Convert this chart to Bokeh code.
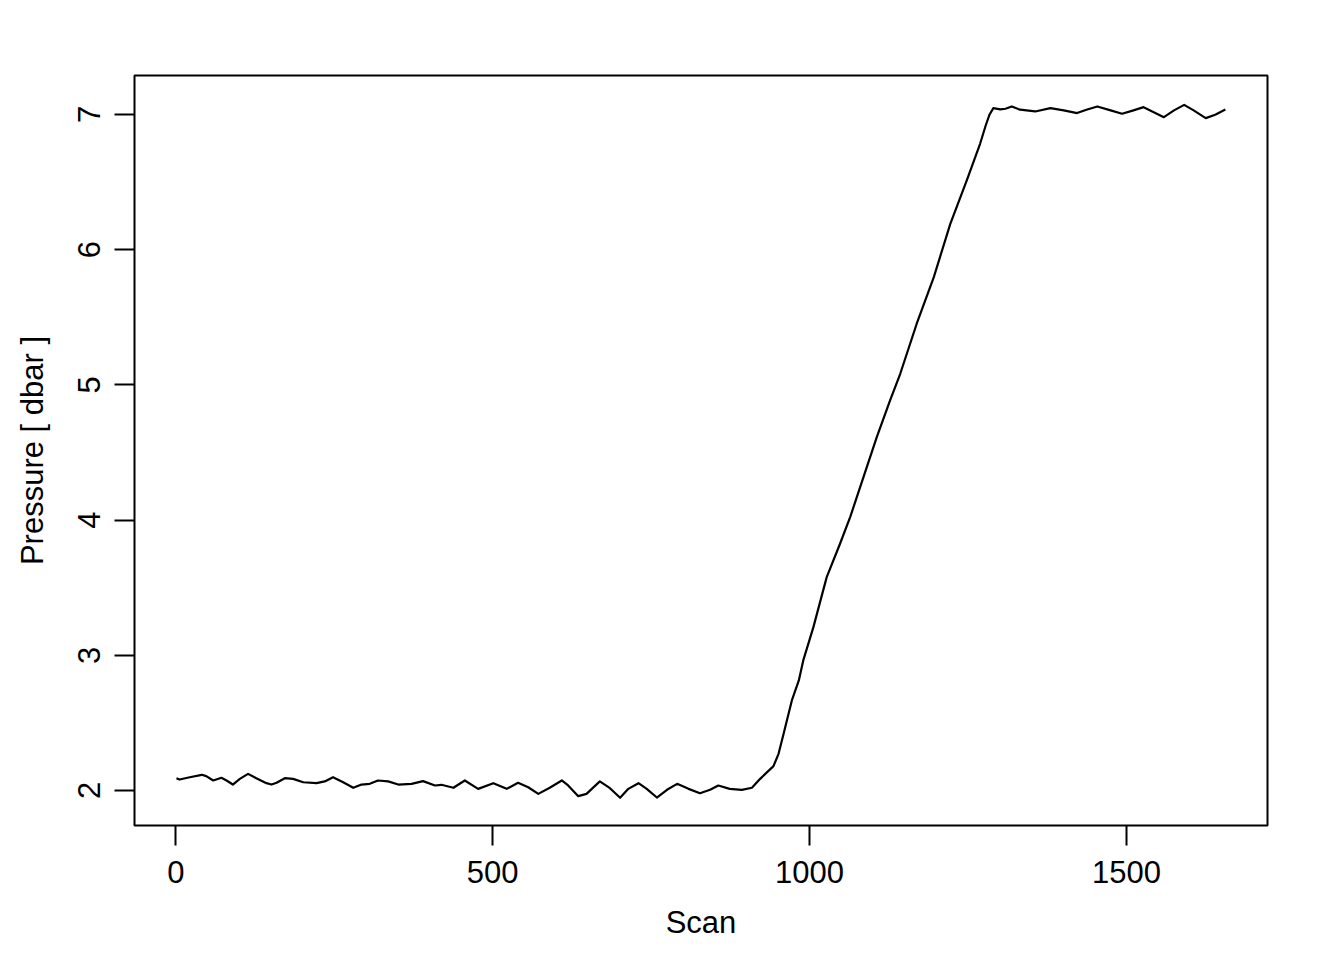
from bokeh.plotting import figure
from bokeh.models import Range1d, FixedTicker
from bokeh.embed import file_html
from bokeh.resources import INLINE

# Data
scan = [1, 6, 22, 41, 48, 59, 72, 80, 90, 101, 114, 127, 143, 151, 159, 172,
        185, 201, 222, 235, 248, 264, 280, 293, 306, 319, 335, 351, 372, 390,
        409, 419, 438, 456, 477, 501, 522, 540, 556, 572, 590, 609, 619, 635,
        648, 669, 685, 701, 714, 730, 743, 759, 775, 791, 809, 827, 843, 856,
        874, 893, 909, 922, 943, 951, 959, 972, 983, 990, 1006, 1027, 1048,
        1064, 1085, 1106, 1127, 1143, 1169, 1196, 1222, 1248, 1269, 1278, 1284,
        1290, 1301, 1309, 1319, 1332, 1356, 1380, 1401, 1422, 1438, 1454, 1475,
        1493, 1511, 1527, 1543, 1559, 1575, 1591, 1606, 1625, 1640, 1656]
pressure = [2.091, 2.081, 2.098, 2.116, 2.106, 2.074, 2.094, 2.074, 2.044, 2.086,
            2.123, 2.091, 2.054, 2.044, 2.057, 2.091, 2.086, 2.061, 2.054, 2.067,
            2.098, 2.061, 2.020, 2.044, 2.049, 2.074, 2.067, 2.044, 2.049, 2.069,
            2.037, 2.042, 2.020, 2.074, 2.012, 2.054, 2.012, 2.057, 2.024, 1.975,
            2.020, 2.074, 2.037, 1.958, 1.975, 2.067, 2.017, 1.946, 2.012, 2.054,
            2.012, 1.948, 2.005, 2.049, 2.012, 1.980, 2.005, 2.037, 2.012, 2.005,
            2.020, 2.086, 2.180, 2.271, 2.419, 2.666, 2.814, 2.962, 3.208, 3.578,
            3.825, 4.022, 4.317, 4.613, 4.885, 5.082, 5.452, 5.797, 6.191, 6.512,
            6.783, 6.920, 7.000, 7.047, 7.037, 7.042, 7.059, 7.035, 7.022, 7.047,
            7.030, 7.010, 7.037, 7.059, 7.030, 7.005, 7.030, 7.054, 7.017, 6.980,
            7.030, 7.071, 7.030, 6.973, 6.998, 7.037]

x_ticks = [0, 500, 1000, 1500]
y_ticks = [2, 3, 4, 5, 6, 7]
x_label = "Scan"
y_label = "Pressure [ dbar ]"

FONT = "Liberation Sans"
FS = "31px"

p = figure(width=1344, height=960, output_backend="svg", toolbar_location=None,
           x_range=Range1d(-65.2, 1722.5), y_range=Range1d(1.741, 7.288),
           min_border_left=134, min_border_right=77, min_border_top=75,
           min_border_bottom=135)

p.line(scan, pressure, line_color="black", line_width=2.2, line_join="round")

p.grid.visible = False
p.outline_line_color = "black"
p.outline_line_width = 2
p.background_fill_color = "white"
p.border_fill_color = "white"

for ax in (p.xaxis[0], p.yaxis[0]):
    ax.axis_line_color = None
    ax.major_tick_in = 0
    ax.major_tick_out = 20
    ax.major_tick_line_width = 2
    ax.major_tick_line_color = "black"
    ax.minor_tick_line_color = None
    ax.major_label_text_font = FONT
    ax.major_label_text_font_size = FS
    ax.major_label_text_color = "black"
    ax.axis_label_text_font = FONT
    ax.axis_label_text_font_size = FS
    ax.axis_label_text_font_style = "normal"
    ax.axis_label_text_color = "black"

p.xaxis.ticker = FixedTicker(ticks=x_ticks)
p.yaxis.ticker = FixedTicker(ticks=y_ticks)
p.xaxis.axis_label = x_label
p.yaxis.axis_label = y_label
p.yaxis.major_label_orientation = "parallel"
p.xaxis.major_label_standoff = 15
p.yaxis.major_label_standoff = 14
p.xaxis.axis_label_standoff = 19
p.yaxis.axis_label_standoff = 26

open("out.html", "w").write(file_html(p, INLINE))
